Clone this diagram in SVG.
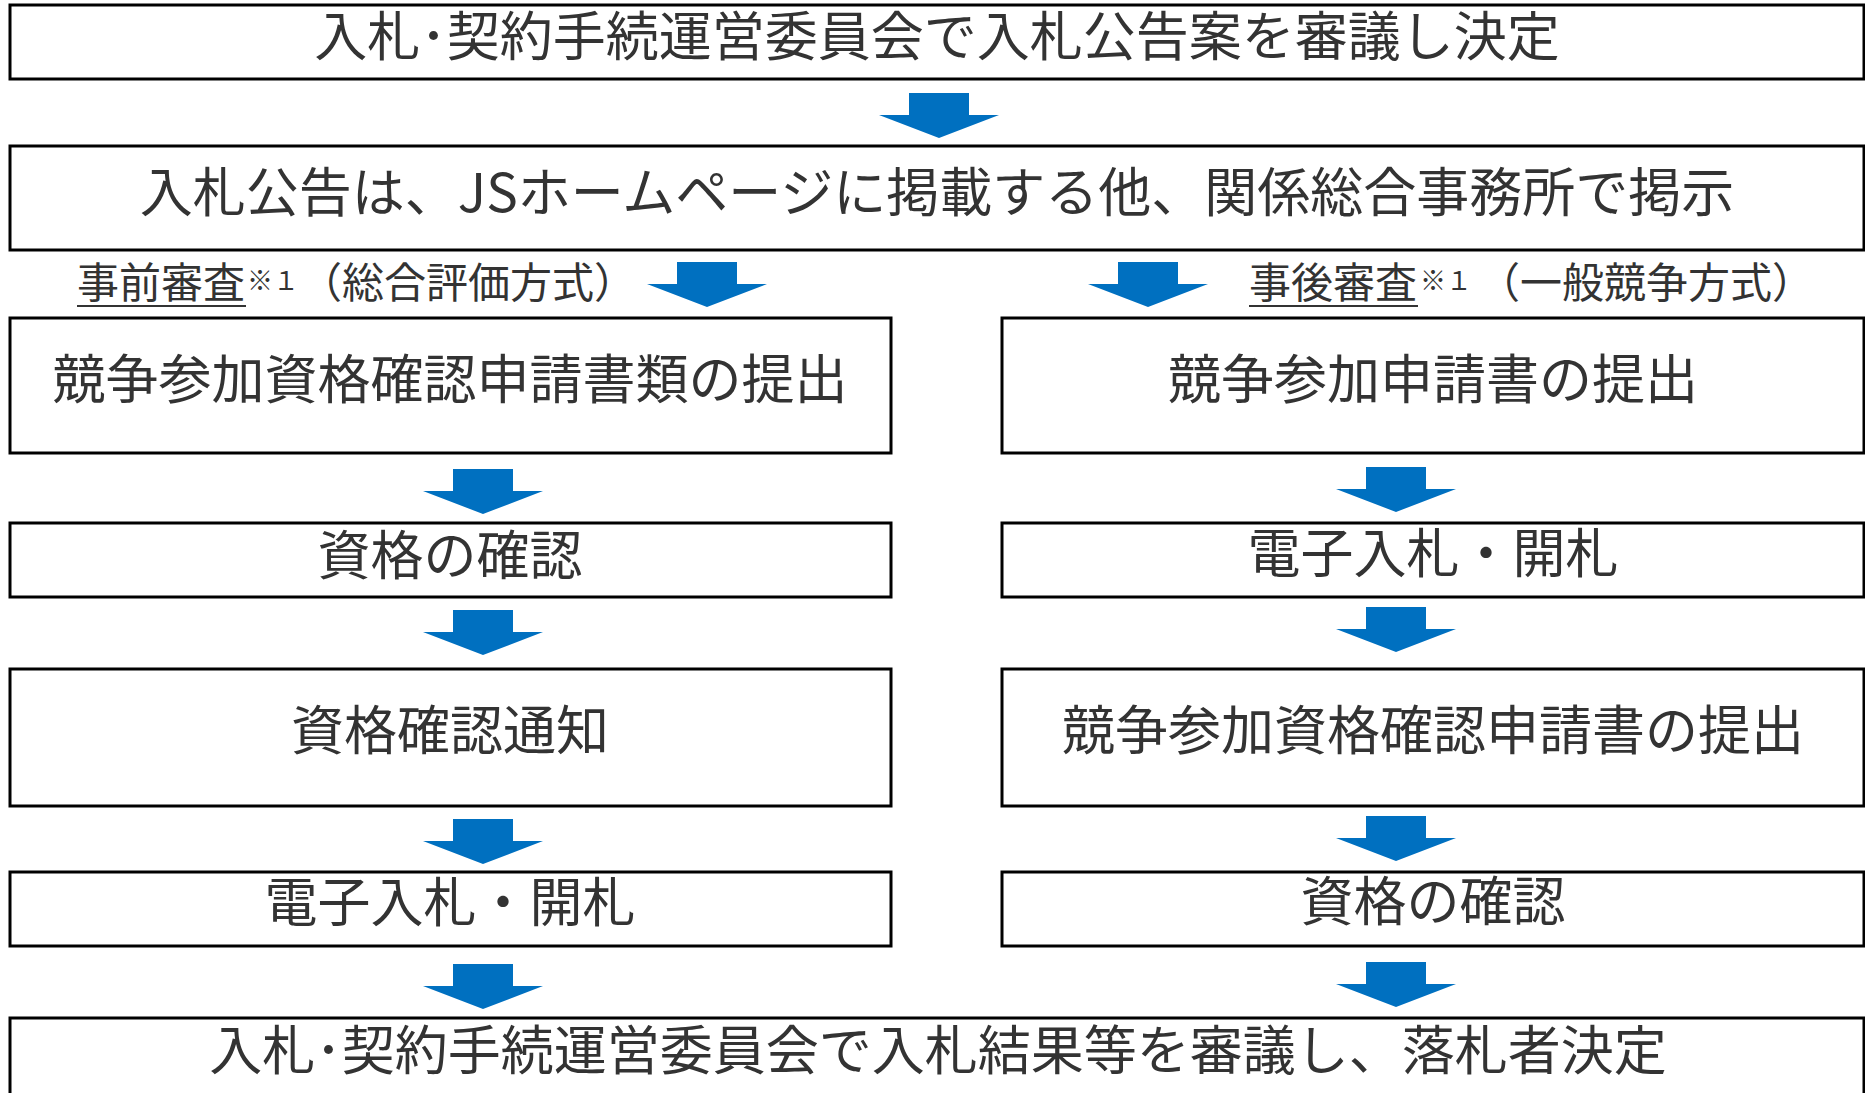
<svg xmlns="http://www.w3.org/2000/svg" width="1865" height="1093" viewBox="0 0 1865 1093">
<style>
.box{fill:#ffffff;stroke:#000000;stroke-width:3}
.t{font-family:"Noto Sans CJK JP","Noto Sans CJK SC",sans-serif;fill:#333333;font-size:53px;text-anchor:middle}
.lb{font-family:"Noto Sans CJK JP","Noto Sans CJK SC",sans-serif;fill:#333333;font-size:42px}
.sup{font-family:"Noto Sans CJK JP","Noto Sans CJK SC",sans-serif;fill:#333333;font-size:26px}
.arr{fill:#0070C0}
</style>
<defs>
<polygon id="dn" points="-30,0 30,0 30,22 60,22 0,45 -60,22 -30,22"/>
</defs>
<rect width="1865" height="1093" fill="#ffffff"/>
<g id="connectors" class="arr">
<use href="#dn" x="939" y="93"/>
<use href="#dn" x="707" y="262"/>
<use href="#dn" x="1148" y="262"/>
<use href="#dn" x="483" y="469"/>
<use href="#dn" x="483" y="610"/>
<use href="#dn" x="483" y="819"/>
<use href="#dn" x="483" y="964"/>
<use href="#dn" x="1396" y="467"/>
<use href="#dn" x="1396" y="607"/>
<use href="#dn" x="1396" y="816"/>
<use href="#dn" x="1396" y="962"/>
</g>
<g id="n_top">
<rect class="box" x="10" y="5" width="1854" height="74"/>
<text class="t" x="937" y="56">入札･契約手続運営委員会で入札公告案を審議し決定</text>
</g>
<g id="n_notice">
<rect class="box" x="10" y="146" width="1854" height="104"/>
<text class="t" x="937" y="212">入札公告は、JSホームページに掲載する他、関係総合事務所で掲示</text>
</g>
<g id="label_left">
<text class="lb" x="77" y="298">事前審査</text>
<line x1="77" y1="306" x2="246" y2="306" stroke="#333333" stroke-width="2"/>
<text class="sup" x="247" y="290">※１</text>
<text class="lb" x="300" y="298">（総合評価方式）</text>
</g>
<g id="label_right">
<text class="lb" x="1249" y="298">事後審査</text>
<line x1="1249" y1="306" x2="1418" y2="306" stroke="#333333" stroke-width="2"/>
<text class="sup" x="1420" y="290">※１</text>
<text class="lb" x="1478" y="298">（一般競争方式）</text>
</g>
<g id="n_l1">
<rect class="box" x="10" y="318" width="881" height="135"/>
<text class="t" x="450" y="399">競争参加資格確認申請書類の提出</text>
</g>
<g id="n_l2">
<rect class="box" x="10" y="523" width="881" height="74"/>
<text class="t" x="450" y="575">資格の確認</text>
</g>
<g id="n_l3">
<rect class="box" x="10" y="669" width="881" height="137"/>
<text class="t" x="450" y="750">資格確認通知</text>
</g>
<g id="n_l4">
<rect class="box" x="10" y="872" width="881" height="74"/>
<text class="t" x="450" y="922">電子入札・開札</text>
</g>
<g id="n_r1">
<rect class="box" x="1002" y="318" width="862" height="135"/>
<text class="t" x="1433" y="399">競争参加申請書の提出</text>
</g>
<g id="n_r2">
<rect class="box" x="1002" y="523" width="862" height="74"/>
<text class="t" x="1433" y="573">電子入札・開札</text>
</g>
<g id="n_r3">
<rect class="box" x="1002" y="669" width="862" height="137"/>
<text class="t" x="1433" y="750">競争参加資格確認申請書の提出</text>
</g>
<g id="n_r4">
<rect class="box" x="1002" y="872" width="862" height="74"/>
<text class="t" x="1433" y="921">資格の確認</text>
</g>
<g id="n_bottom">
<rect class="box" x="10" y="1018" width="1854" height="100"/>
<text class="t" x="938" y="1070">入札･契約手続運営委員会で入札結果等を審議し、落札者決定</text>
</g>
</svg>
